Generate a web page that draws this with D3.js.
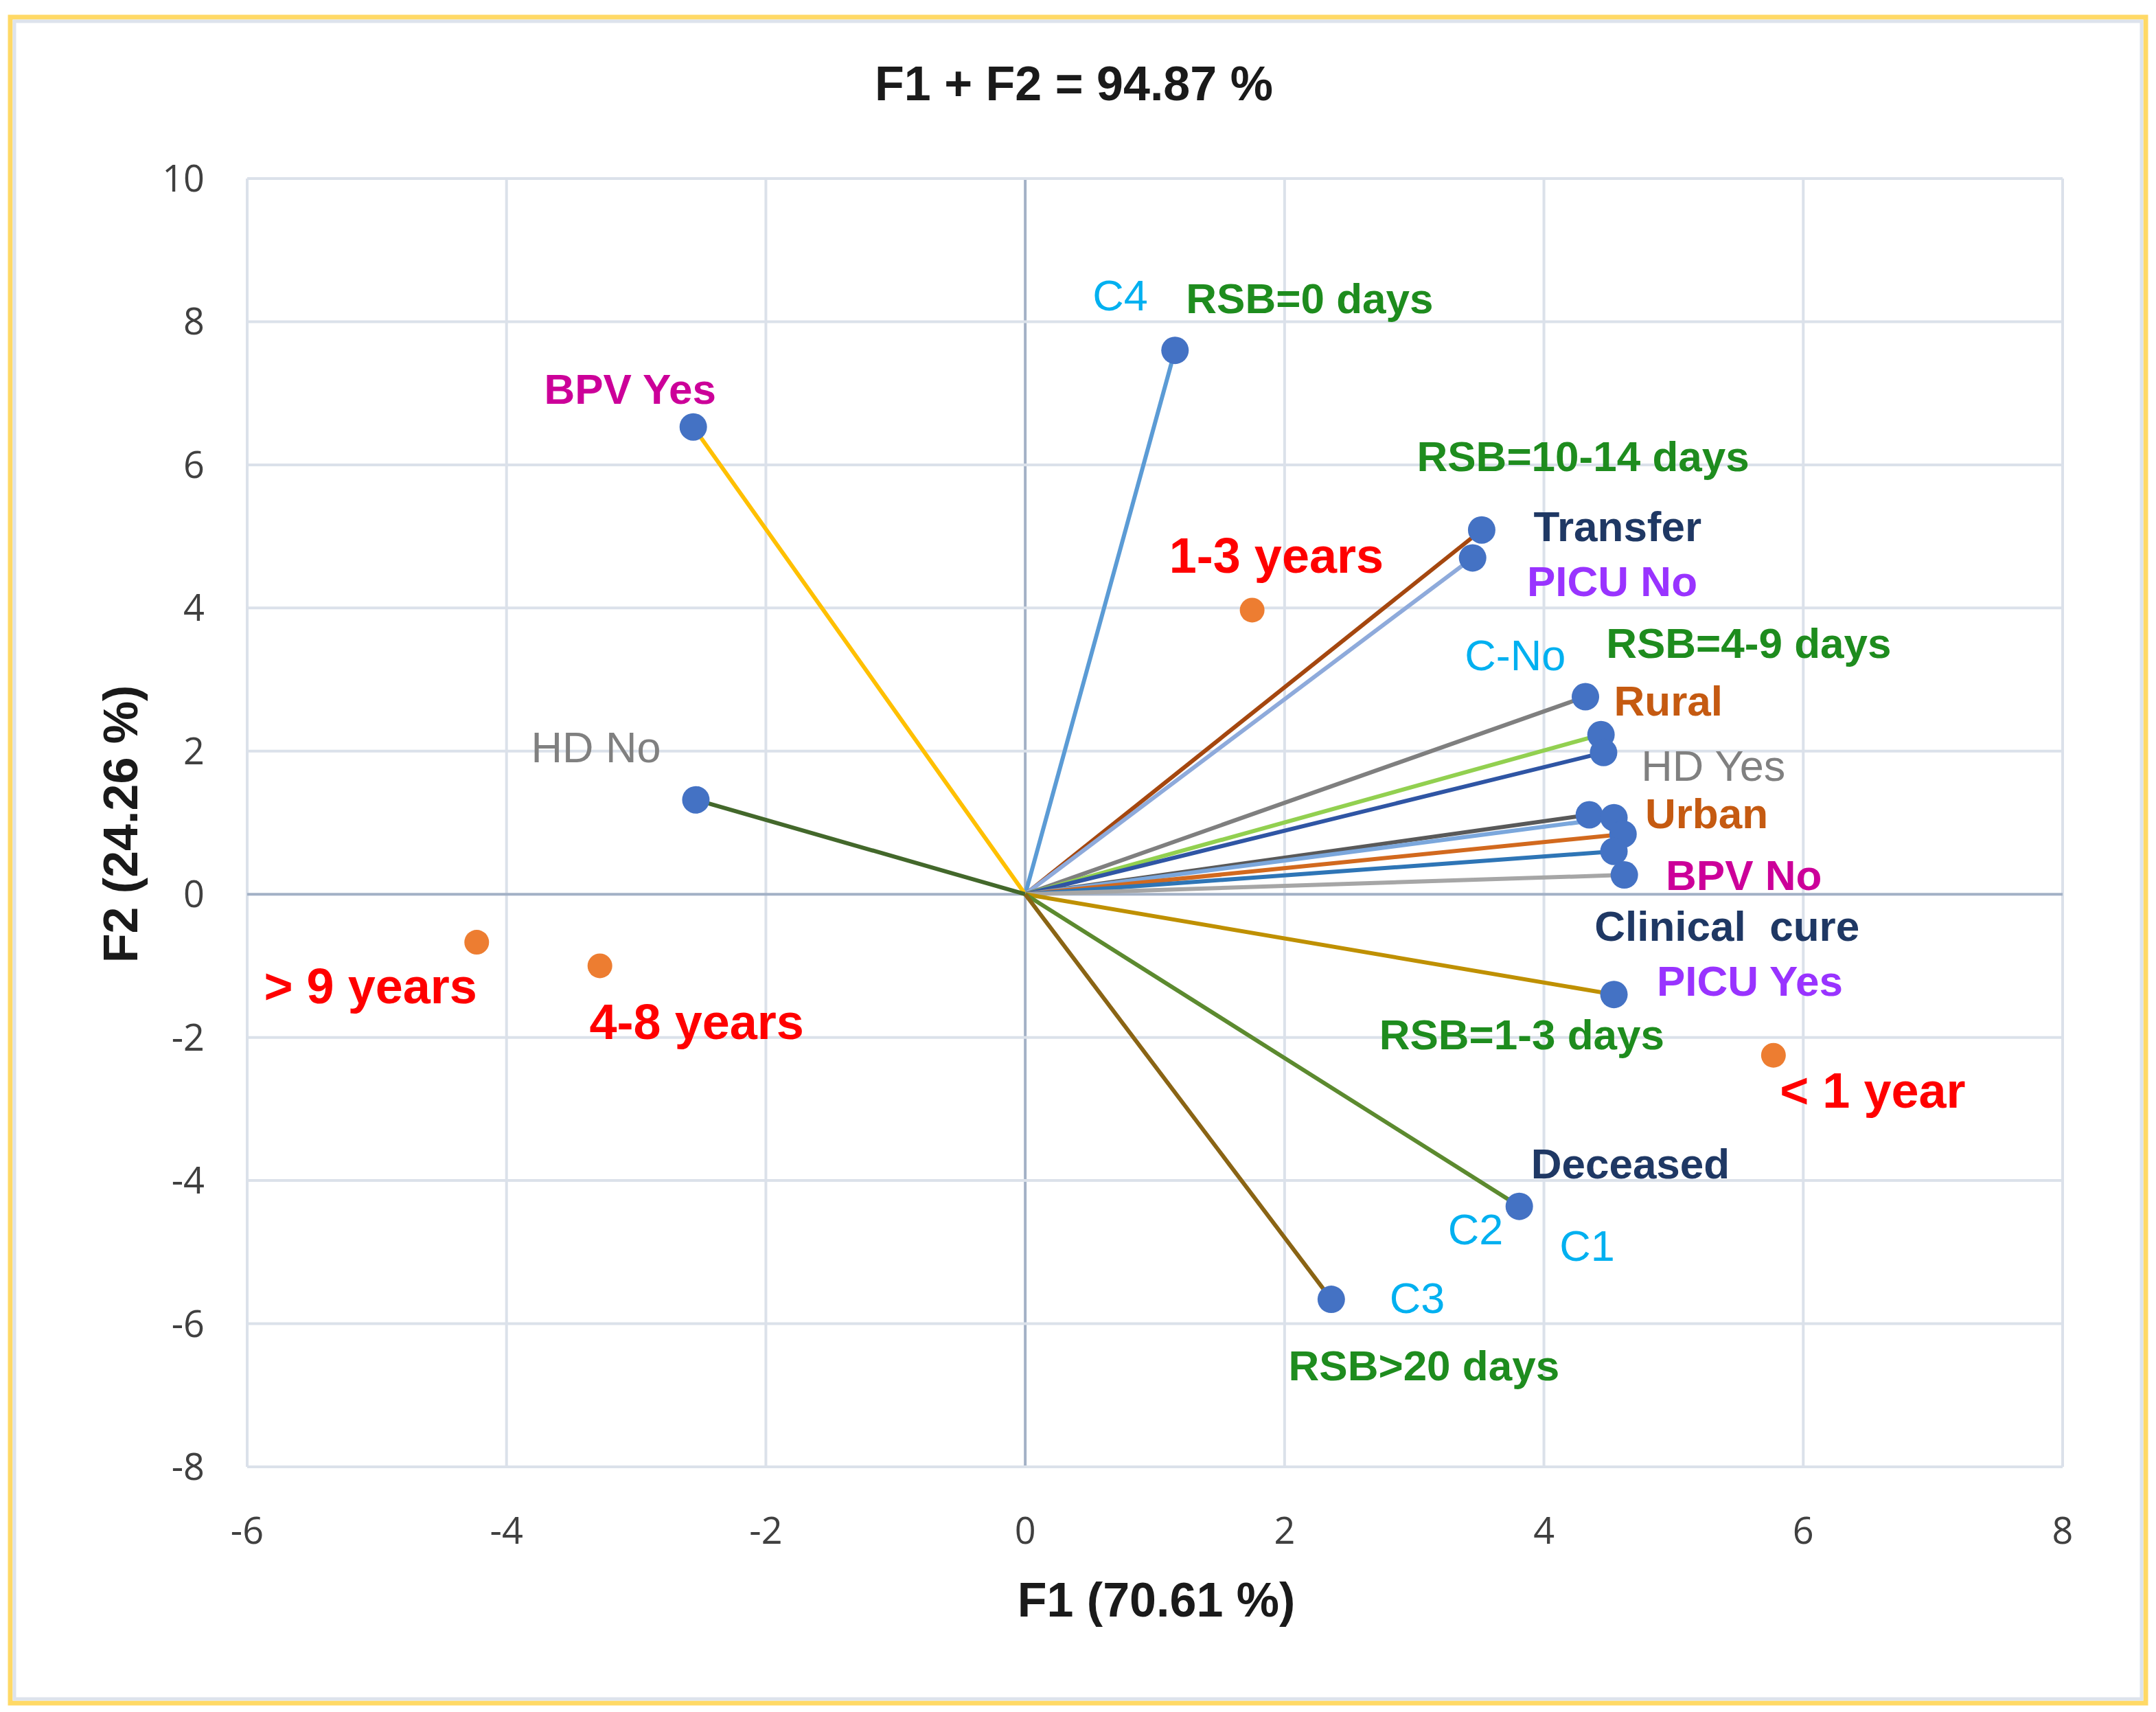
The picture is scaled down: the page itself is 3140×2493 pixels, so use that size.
<!DOCTYPE html>
<html><head><meta charset="utf-8">
<script src="https://cdn.jsdelivr.net/npm/d3@7"></script>
<style>body{margin:0;background:#fff}</style></head>
<body><svg id="c" width="3140" height="2493"></svg>
<script>
// Vector endpoints (blue points with lines from origin)
const vecNames = ["C4","BPV Yes","Transfer","PICU No","C-No","RSB=4-9","HD Yes","HD No","Clin1","Clin2","Urban","BPVNo1","BPV No","PICU Yes","Deceased","C3"];
const vecX = [1.155,-2.56,3.52,3.45,4.32,4.44,4.46,-2.54,4.35,4.54,4.61,4.54,4.62,4.54,3.81,2.36];
const vecY = [7.60,6.53,5.09,4.70,2.76,2.23,1.98,1.32,1.11,1.07,0.84,0.60,0.27,-1.40,-4.36,-5.66];
const vecColors = ["#5b9bd5","#ffc000","#a5470f","#8eaadb","#7f7f7f","#92d050","#2f55a4","#43682b","#595959","#7ba7dc","#d2691e","#2e75b6","#a6a6a6","#bf9000","#5c8a2f","#8a6414"];
// Orange age points
const ageNames = ["1-3 years","< 1 year","> 9 years","4-8 years"];
const ageX = [1.75,5.77,-4.23,-3.28];
const ageY = [3.97,-2.25,-0.67,-1.00];
// Labels
const labTexts = ["C4","RSB=0 days","BPV Yes","RSB=10-14 days","Transfer","1-3 years","PICU No","C-No","RSB=4-9 days","Rural","HD No","HD Yes","Urban","BPV No","Clinical  cure","PICU Yes","RSB=1-3 days","< 1 year","Deceased","C2","C1","C3","RSB>20 days","> 9 years","4-8 years"];
const labX = [0.52,1.24,-3.71,3.02,3.92,1.11,3.87,3.39,4.48,4.54,-3.81,4.75,4.78,4.94,4.39,4.87,2.73,5.82,3.90,3.26,4.12,2.81,2.03,-5.87,-3.36];
const labY = [8.16,8.12,6.85,5.91,4.93,4.49,4.17,3.13,3.30,2.50,1.84,1.59,0.92,0.06,-0.65,-1.42,-2.17,-2.98,-3.97,-4.89,-5.12,-5.85,-6.79,-1.52,-2.02];
const labColors = ["#00b0f0","#1e8c1e","#cc0099","#1e8c1e","#1f3864","#ff0000","#9933ff","#00b0f0","#1e8c1e","#c55a11","#808080","#808080","#c55a11","#cc0099","#1f3864","#9933ff","#1e8c1e","#ff0000","#1f3864","#00b0f0","#00b0f0","#00b0f0","#1e8c1e","#ff0000","#ff0000"];
const labBold = [0,1,1,1,1,1,1,0,1,1,0,0,1,1,1,1,1,1,1,0,0,0,1,1,1];
const labBig = [0,0,0,0,0,1,0,0,0,0,0,0,0,0,0,0,0,1,0,0,0,0,0,1,1];
const xTicks = [-6,-4,-2,0,2,4,6,8];
const yTicks = [-8,-6,-4,-2,0,2,4,6,8,10];

const svg = d3.select("#c");
const F = "'Liberation Sans', Arial, sans-serif";
svg.append("rect").attr("x",15).attr("y",25).attr("width",3110).attr("height",2455).attr("fill","#fff").attr("stroke","#ffd966").attr("stroke-width",7);
svg.append("rect").attr("x",21).attr("y",31).attr("width",3098).attr("height",2443).attr("fill","none").attr("stroke","#dde3ec").attr("stroke-width",5);

const x = d3.scaleLinear().domain([-6,8]).range([360,3004]);
const y = d3.scaleLinear().domain([-8,10]).range([2136,260]);
const g = svg.append("g");
g.selectAll(".gx").data(xTicks).join("line").attr("x1",d=>x(d)).attr("x2",d=>x(d)).attr("y1",y(10)).attr("y2",y(-8)).attr("stroke",d=>d===0?"#a3b1c6":"#dbe1ea").attr("stroke-width",4);
g.selectAll(".gy").data(yTicks).join("line").attr("y1",d=>y(d)).attr("y2",d=>y(d)).attr("x1",x(-6)).attr("x2",x(8)).attr("stroke",d=>d===0?"#a3b1c6":"#dbe1ea").attr("stroke-width",4);

g.selectAll(".tx").data(xTicks).join("text").attr("x",d=>x(d)).attr("y",2248).attr("text-anchor","middle").attr("font-family","'Open Sans', sans-serif").attr("font-size",54).attr("fill","#404040").text(d=>d);
g.selectAll(".ty").data(yTicks).join("text").attr("x",298).attr("y",d=>y(d)+19).attr("text-anchor","end").attr("font-family","'Open Sans', sans-serif").attr("font-size",54).attr("fill","#404040").text(d=>d);

const idx = d3.range(vecX.length);
g.selectAll(".v").data(idx).join("line").attr("x1",x(0)).attr("y1",y(0)).attr("x2",i=>x(vecX[i])).attr("y2",i=>y(vecY[i])).attr("stroke",i=>vecColors[i]).attr("stroke-width",6);
g.selectAll(".p").data(idx).join("circle").attr("cx",i=>x(vecX[i])).attr("cy",i=>y(vecY[i])).attr("r",20).attr("fill","#4472c4");
g.selectAll(".a").data(d3.range(ageX.length)).join("circle").attr("cx",i=>x(ageX[i])).attr("cy",i=>y(ageY[i])).attr("r",18).attr("fill","#ed7d31");

g.selectAll(".l").data(d3.range(labTexts.length)).join("text").attr("x",i=>x(labX[i])).attr("y",i=>y(labY[i])).attr("font-family",F).attr("font-weight",i=>labBold[i]?"bold":"normal").attr("font-size",i=>labBig[i]?72:(labBold[i]?62:63)).attr("fill",i=>labColors[i]).attr("xml:space","preserve").style("white-space","pre").text(i=>labTexts[i]);

svg.append("text").attr("x",1564).attr("y",146).attr("text-anchor","middle").attr("font-family",F).attr("font-weight","bold").attr("font-size",70).attr("fill","#1a1a1a").text("F1 + F2 = 94.87 %");
svg.append("text").attr("x",1684).attr("y",2354).attr("text-anchor","middle").attr("font-family",F).attr("font-weight","bold").attr("font-size",70).attr("fill","#1a1a1a").text("F1 (70.61 %)");
svg.append("text").attr("transform","translate(200,1200) rotate(-90)").attr("text-anchor","middle").attr("font-family",F).attr("font-weight","bold").attr("font-size",70).attr("fill","#1a1a1a").text("F2 (24.26 %)");
</script></body></html>
